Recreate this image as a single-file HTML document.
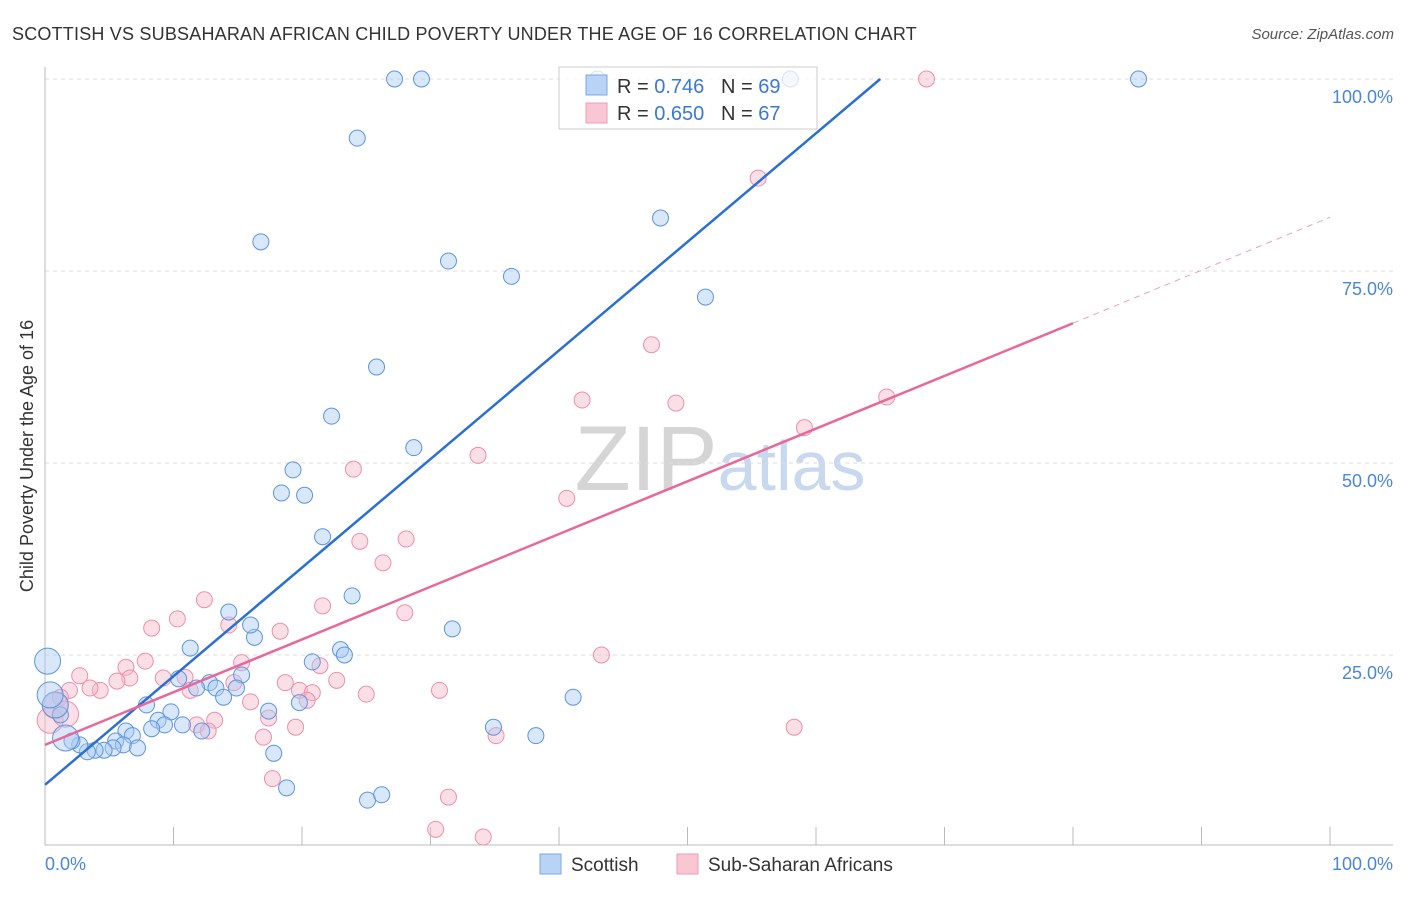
<!DOCTYPE html>
<html><head><meta charset="utf-8"><style>
body{margin:0;background:#fff;font-family:"Liberation Sans",sans-serif}
svg text{font-family:"Liberation Sans",sans-serif}
</style></head><body>
<svg id="chart" width="1406" height="892" xmlns="http://www.w3.org/2000/svg">
<text x="12" y="40" font-size="18" fill="#333" letter-spacing="0.2">SCOTTISH VS SUBSAHARAN AFRICAN CHILD POVERTY UNDER THE AGE OF 16 CORRELATION CHART</text>
<text x="1394" y="39" font-size="15" fill="#555" text-anchor="end" font-style="italic">Source: ZipAtlas.com</text>
<text x="720" y="490" font-size="92" text-anchor="middle" fill="#ddd" font-family="Liberation Serif"><tspan fill="#d5d5d5">ZIP</tspan><tspan fill="#c8d8ee" font-family="Liberation Sans" font-size="70">atlas</tspan></text>
<g id="grid"></g>
<g id="axes"></g>
<g id="pts"></g>
<g id="lines"></g>
<text transform="translate(33,456) rotate(-90)" font-size="18" fill="#333" text-anchor="middle">Child Poverty Under the Age of 16</text>
<text x="45" y="870" font-size="18" fill="#4a86d8">0.0%</text>
<text x="1393" y="870" font-size="18" fill="#4a86d8" text-anchor="end">100.0%</text>
<g>
<rect x="559" y="67" width="258" height="62" fill="#fff" fill-opacity="0.75" stroke="#ccc"/>
<rect x="586" y="75" width="21" height="20" fill="#b8d3f5" stroke="#7aa8e6"/>
<rect x="586" y="103" width="21" height="20" fill="#f9c6d4" stroke="#f099b3"/>
<text x="617" y="93" font-size="20" fill="#333" xml:space="preserve">R = <tspan fill="#3a78d6">0.746</tspan>   N = <tspan fill="#3a78d6">69</tspan></text>
<text x="617" y="120" font-size="20" fill="#333" xml:space="preserve">R = <tspan fill="#3a78d6">0.650</tspan>   N = <tspan fill="#3a78d6">67</tspan></text>
</g>
<g>
<rect x="540" y="854" width="21" height="20" fill="#b8d3f5" stroke="#7aa8e6"/>
<text x="571" y="871" font-size="19" fill="#333">Scottish</text>
<rect x="677" y="854" width="21" height="20" fill="#f9c6d4" stroke="#f099b3"/>
<text x="708" y="871" font-size="19" fill="#333">Sub-Saharan Africans</text>
</g>
</svg>
<script>
const yTicks=[25,50,75,100];
const yTickLabels=["25.0%","50.0%","75.0%","100.0%"];
const xTicks=[0,10,20,30,40,50,60,70,80,90,100];
const blueX=[27.2,29.3,43.0,58.0,85.1,24.3,16.8,31.4,36.3,47.9,51.4,25.8,22.3,28.7,19.3,18.4,20.2,21.6,23.9,31.7,14.3,16.3,16.0,23.0,23.3,20.8,11.3,15.3,12.8,13.3,14.9,13.9,19.8,17.4,10.4,11.8,41.1,7.9,9.8,8.8,9.3,10.7,12.2,8.3,6.3,6.8,5.5,6.1,7.2,5.3,4.6,3.9,3.3,2.7,2.1,1.6,1.2,0.8,0.4,0.2,34.9,38.2,17.8,18.8,25.1,26.2];
const blueY=[100,100,100,100,100,92.3,78.8,76.3,74.3,81.9,71.6,62.5,56.1,52.0,49.1,46.1,45.8,40.4,32.7,28.4,30.6,27.3,28.9,25.7,25.0,24.1,25.9,22.4,21.4,20.7,20.7,19.5,18.8,17.7,21.9,20.7,19.5,18.5,17.6,16.5,15.9,15.9,15.1,15.4,15.1,14.5,13.8,13.3,12.9,12.9,12.6,12.6,12.4,13.3,13.8,14.2,17.2,18.5,19.8,24.2,15.6,14.5,12.2,7.7,6.1,6.8];
const blueBig=[57,58,59,55];
const pinkX=[68.6,55.5,47.2,41.8,49.1,65.5,59.1,33.7,24.0,40.6,28.1,24.5,26.3,12.4,21.6,28.0,10.3,8.3,14.3,18.3,43.3,7.8,6.3,2.7,9.2,10.9,15.3,21.4,22.7,18.7,11.3,14.7,6.6,5.6,4.3,3.5,1.9,1.2,0.8,16.0,19.8,20.8,20.4,25.0,30.7,17.4,17.0,13.2,11.8,12.7,19.5,35.1,58.3,17.7,31.4,30.4,34.1,0.4,1.6];
const pinkY=[100,87.1,65.4,58.2,57.8,58.6,54.6,51.0,49.2,45.4,40.1,39.8,37.0,32.2,31.4,30.5,29.7,28.5,28.9,28.1,25.0,24.2,23.4,22.3,22.0,22.1,24.0,23.6,21.7,21.4,20.4,21.4,22.0,21.6,20.4,20.7,20.4,19.5,18.4,18.9,20.4,20.1,19.1,19.9,20.4,16.8,14.3,16.5,15.9,15.1,15.6,14.5,15.6,8.9,6.5,2.3,1.3,16.5,17.3];
const pinkBig=[57,58,38];
const blueLine=[[0,8.1],[65,100]];
const pinkLine=[[0,13.3],[80,68.2]];
const pinkDash=[[80,68.2],[100,82]];
const X=v=>45+v*12.85, Y=v=>847-v*7.68;
const NS="http://www.w3.org/2000/svg";
function mk(p,t,a){const e=document.createElementNS(NS,t);for(const k in a)e.setAttribute(k,a[k]);p.appendChild(e);return e;}
const grid=document.getElementById('grid'),axes=document.getElementById('axes'),pts=document.getElementById('pts'),lines=document.getElementById('lines');
yTicks.forEach((t,i)=>{const l=mk(grid,'line',{x1:45,x2:1393,y1:Y(t),y2:Y(t),stroke:'#ddd','stroke-dasharray':'4,4'});


const tx=mk(grid,'text',{x:1393,y:Y(t)+24,'font-size':18,fill:'#4a86d8','text-anchor':'end'});tx.textContent=yTickLabels[i];

});
const ax=mk(axes,'line',{x1:45,x2:1393,y1:845,y2:845,stroke:'#bbb'});


const ay=mk(axes,'line',{x1:45,x2:45,y1:67,y2:845,stroke:'#bbb'});


xTicks.forEach(t=>{const l=mk(axes,'line',{x1:X(t),x2:X(t),y1:827,y2:845,stroke:'#bbb'});

});
function dots(xs,ys,big,fill,stroke,name){xs.forEach((x,i)=>{const c=mk(pts,'circle',{cx:X(x),cy:Y(ys[i]),r:big.includes(i)?13:8,fill:fill,'fill-opacity':0.45,stroke:stroke,'stroke-width':1});

});}
dots(pinkX,pinkY,pinkBig,'#f7b8ca','#ef8fab','sub-saharan-point');
dots(blueX,blueY,blueBig,'#a9c9f2','#5d95e0','scottish-point');
function ln(d,col,w,dash,name){const l=mk(lines,'line',{x1:X(d[0][0]),y1:Y(d[0][1]),x2:X(d[1][0]),y2:Y(d[1][1]),stroke:col,'stroke-width':w});if(dash)l.setAttribute('stroke-dasharray',dash);

}
ln(blueLine,'#2a6fd6',2.5,null,'scottish-trendline');
ln(pinkLine,'#e8689a',2.5,null,'sub-saharan-trendline');
ln(pinkDash,'#eea0bb',1,'6,5','sub-saharan-trendline-extension');
</script>
</body></html>
